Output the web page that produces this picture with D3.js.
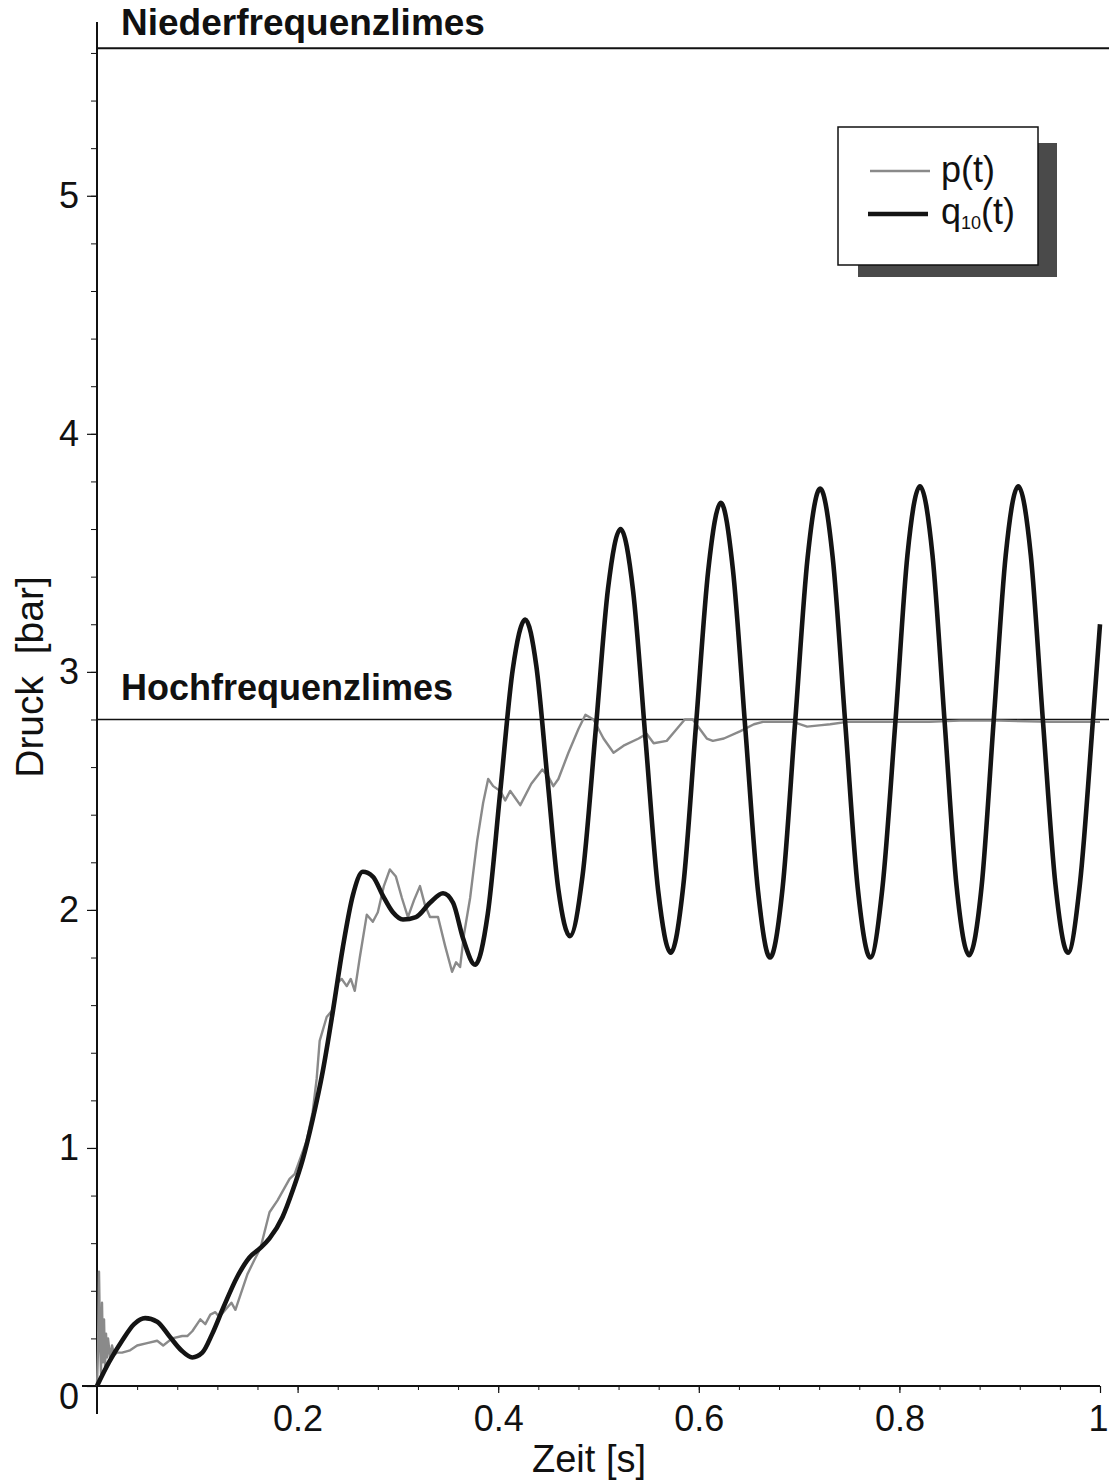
<!DOCTYPE html>
<html>
<head>
<meta charset="utf-8">
<script src="https://cdn.jsdelivr.net/npm/d3@7"></script>
<style>
  html, body { margin: 0; padding: 0; background: #fff; }
  svg { display: block; font-family: "Liberation Sans", Arial, sans-serif; }
</style>
</head>
<body>
<svg id="chart" width="1109" height="1483"></svg>
<script>
// Pressure response: measured p(t) and the 10-mode approximation q10(t)
const pTime = [0, 0.001, 0.002, 0.003, 0.004, 0.005, 0.006, 0.007, 0.008, 0.009, 0.010, 0.011, 0.013, 0.015, 0.017, 0.020,
  0.025, 0.033, 0.040, 0.050, 0.060, 0.066, 0.075, 0.085, 0.090, 0.095, 0.103, 0.108, 0.113, 0.118, 0.122, 0.128,
  0.134, 0.138, 0.142, 0.150, 0.157, 0.163, 0.172, 0.180, 0.192, 0.197, 0.209, 0.215, 0.219, 0.222, 0.229, 0.235,
  0.239, 0.244, 0.249, 0.253, 0.257, 0.262, 0.269, 0.275, 0.280, 0.286, 0.292, 0.298, 0.304, 0.310, 0.316, 0.322,
  0.327, 0.332, 0.340, 0.347, 0.354, 0.358, 0.362, 0.366, 0.372, 0.379, 0.385, 0.390, 0.395, 0.402, 0.407, 0.412,
  0.417, 0.422, 0.433, 0.444, 0.450, 0.455, 0.460, 0.470, 0.480, 0.487, 0.495, 0.505, 0.515, 0.525, 0.540, 0.548,
  0.555, 0.568, 0.578, 0.586, 0.594, 0.601, 0.608, 0.614, 0.625, 0.641, 0.655, 0.664, 0.680, 0.694, 0.708, 0.720,
  0.731, 0.748, 0.770, 0.800, 0.830, 0.860, 0.900, 0.950, 1.000];
const pValue = [0, 0.15, 0.48, 0.20, 0.05, 0.35, 0.10, 0.28, 0.08, 0.22, 0.12, 0.20, 0.12, 0.17, 0.13, 0.14,
  0.14, 0.15, 0.17, 0.18, 0.19, 0.17, 0.20, 0.21, 0.21, 0.23, 0.28, 0.26, 0.30, 0.31, 0.29, 0.32,
  0.35, 0.32, 0.37, 0.47, 0.53, 0.58, 0.73, 0.78, 0.87, 0.89, 1.03, 1.15, 1.29, 1.45, 1.55, 1.58,
  1.69, 1.71, 1.68, 1.71, 1.66, 1.80, 1.98, 1.95, 1.99, 2.10, 2.17, 2.14, 2.05, 1.97, 2.04, 2.10,
  2.02, 1.97, 1.97, 1.85, 1.74, 1.78, 1.76, 1.90, 2.05, 2.29, 2.45, 2.55, 2.52, 2.50, 2.46, 2.50,
  2.47, 2.44, 2.53, 2.59, 2.56, 2.52, 2.55, 2.66, 2.76, 2.82, 2.80, 2.72, 2.66, 2.69, 2.72, 2.74,
  2.70, 2.71, 2.76, 2.80, 2.80, 2.76, 2.72, 2.71, 2.72, 2.75, 2.78, 2.79, 2.79, 2.79, 2.77, 2.775,
  2.78, 2.79, 2.79, 2.79, 2.79, 2.795, 2.795, 2.79, 2.79];

const qTime = [0, 0.012, 0.025, 0.037, 0.048, 0.060, 0.072, 0.084, 0.095, 0.105, 0.115, 0.126, 0.140, 0.152, 0.163,
  0.172, 0.185, 0.195, 0.205, 0.215, 0.225, 0.235, 0.245, 0.255, 0.265, 0.275, 0.285, 0.295, 0.305, 0.318, 0.332,
  0.345, 0.355, 0.365, 0.377, 0.3895, 0.402, 0.4145, 0.427, 0.438, 0.449, 0.460, 0.4715, 0.484, 0.497, 0.5095, 0.522,
  0.5345, 0.547, 0.5595, 0.572, 0.5845, 0.597, 0.6095, 0.622, 0.634, 0.6465, 0.659, 0.671, 0.6835, 0.696, 0.7085, 0.721,
  0.7335, 0.746, 0.7585, 0.771, 0.783, 0.796, 0.808, 0.8205, 0.833, 0.845, 0.857, 0.8695, 0.882, 0.894, 0.906, 0.9185,
  0.931, 0.943, 0.9555, 0.968, 0.980, 0.993, 1.000];
const qValue = [0, 0.10, 0.19, 0.26, 0.285, 0.27, 0.21, 0.15, 0.12, 0.14, 0.22, 0.33, 0.46, 0.54, 0.58,
  0.62, 0.71, 0.82, 0.95, 1.12, 1.32, 1.57, 1.84, 2.06, 2.16, 2.14, 2.06, 1.99, 1.96, 1.97, 2.03,
  2.07, 2.03, 1.88, 1.77, 1.98, 2.495, 3.01, 3.22, 3.025, 2.555, 2.085, 1.89, 2.14, 2.745, 3.35, 3.60,
  3.34, 2.71, 2.08, 1.82, 2.10, 2.765, 3.43, 3.71, 3.43, 2.755, 2.08, 1.80, 2.09, 2.785, 3.48, 3.77,
  3.48, 2.785, 2.09, 1.80, 2.09, 2.79, 3.49, 3.78, 3.49, 2.795, 2.10, 1.81, 2.10, 2.795, 3.49, 3.78,
  3.49, 2.80, 2.11, 1.82, 2.11, 2.80, 3.20];

// Limits of the pressure (bar)
const lowFreqLimit = 5.62;
const highFreqLimit = 2.8;
const limitLabels = ["Niederfrequenzlimes", "Hochfrequenzlimes"];

const xTicks = [0.2, 0.4, 0.6, 0.8, 1];
const xMinor = d3.range(0, 26).map(i => i * 0.04);
const yTicks = [0, 1, 2, 3, 4, 5];
const yMinor = d3.range(0, 29).map(i => i * 0.2);

const seriesNames = ["p(t)", "q"];

const svg = d3.select("#chart");
const x = d3.scaleLinear().domain([0, 1]).range([97, 1100]);
const y = d3.scaleLinear().domain([0, 5.73]).range([1386, 22]);

const ink = "#111";

// Minor ticks
svg.append("g").attr("transform", `translate(${x(0)},0)`)
  .call(d3.axisLeft(y).tickValues(yMinor).tickSize(6).tickFormat(""))
  .call(g => g.select(".domain").remove())
  .call(g => g.selectAll("line").attr("stroke", ink).attr("stroke-width", 1));
svg.append("g").attr("transform", `translate(0,${y(0)})`)
  .call(d3.axisBottom(x).tickValues(xMinor).tickSize(4).tickFormat(""))
  .call(g => g.select(".domain").remove())
  .call(g => g.selectAll("line").attr("stroke", ink).attr("stroke-width", 1));

// Major y axis
const yAxis = svg.append("g").attr("transform", `translate(${x(0)},0)`)
  .call(d3.axisLeft(y).tickValues(yTicks).tickSize(10).tickPadding(8).tickFormat(d3.format("d")));
yAxis.select(".domain").remove();
yAxis.selectAll("line").attr("stroke", ink).attr("stroke-width", 1.2);
yAxis.selectAll("text").attr("font-size", 36).attr("fill", ink)
  .attr("font-family", "Liberation Sans, Arial, sans-serif")
  .filter(d => d === 0).attr("dy", "0.62em");

// Major x axis
const xAxis = svg.append("g").attr("transform", `translate(0,${y(0)})`)
  .call(d3.axisBottom(x).tickValues(xTicks).tickSize(7).tickPadding(12).tickFormat(d => d === 1 ? "1" : d3.format(".1f")(d)));
xAxis.select(".domain").remove();
xAxis.selectAll("line").attr("stroke", ink).attr("stroke-width", 1.2);
xAxis.selectAll("text").attr("font-size", 36).attr("fill", ink)
  .attr("font-family", "Liberation Sans, Arial, sans-serif")
  .filter(d => d === 1).attr("text-anchor", "end").attr("dx", 8);

// Axis lines
svg.append("line").attr("x1", x(0)).attr("x2", x(0)).attr("y1", y(0) + 28).attr("y2", y(5.73))
  .attr("stroke", ink).attr("stroke-width", 2);
svg.append("line").attr("x1", x(0) - 15).attr("x2", x(1)).attr("y1", y(0)).attr("y2", y(0))
  .attr("stroke", ink).attr("stroke-width", 2);

// Axis titles
svg.append("text").attr("x", 589).attr("y", 1472).attr("text-anchor", "middle")
  .attr("font-size", 38).attr("fill", ink).text("Zeit [s]");
svg.append("text").attr("transform", "translate(43,677) rotate(-90)").attr("text-anchor", "middle")
  .attr("font-size", 39).attr("fill", ink).attr("xml:space", "preserve").text("Druck  [bar]");

// Limit lines, running out to the right edge
svg.append("line").attr("x1", x(0)).attr("x2", 1109).attr("y1", y(lowFreqLimit)).attr("y2", y(lowFreqLimit))
  .attr("stroke", ink).attr("stroke-width", 2);
svg.append("line").attr("x1", x(0)).attr("x2", 1109).attr("y1", y(highFreqLimit)).attr("y2", y(highFreqLimit))
  .attr("stroke", ink).attr("stroke-width", 1.6);
svg.append("text").attr("x", 121).attr("y", y(lowFreqLimit) - 13).attr("font-size", 37).attr("font-weight", "bold")
  .attr("fill", ink).text(limitLabels[0]);
svg.append("text").attr("x", 121).attr("y", y(highFreqLimit) - 19).attr("font-size", 36).attr("font-weight", "bold")
  .attr("fill", ink).text(limitLabels[1]);

// Curves
const pData = pTime.map((t, i) => [t, pValue[i]]);
const qData = qTime.map((t, i) => [t, qValue[i]]);

svg.append("path").datum(pData)
  .attr("fill", "none").attr("stroke", "#8a8a8a").attr("stroke-width", 2.4).attr("stroke-linejoin", "round")
  .attr("d", d3.line().x(d => x(d[0])).y(d => y(d[1])));

svg.append("path").datum(qData)
  .attr("fill", "none").attr("stroke", "#141414").attr("stroke-width", 4.6).attr("stroke-linejoin", "round")
  .attr("d", d3.line().x(d => x(d[0])).y(d => y(d[1])).curve(d3.curveMonotoneX));

// Legend with drop shadow
const lg = svg.append("g");
lg.append("rect").attr("x", 858).attr("y", 143).attr("width", 199).attr("height", 134).attr("fill", "#4a4a4a");
lg.append("rect").attr("x", 838).attr("y", 127).attr("width", 200).attr("height", 138)
  .attr("fill", "#fff").attr("stroke", ink).attr("stroke-width", 1.5);
lg.append("line").attr("x1", 870).attr("x2", 930).attr("y1", 171).attr("y2", 171)
  .attr("stroke", "#8a8a8a").attr("stroke-width", 2.4);
lg.append("line").attr("x1", 868).attr("x2", 928).attr("y1", 214).attr("y2", 214)
  .attr("stroke", "#141414").attr("stroke-width", 4.6);
lg.append("text").attr("x", 941).attr("y", 182).attr("font-size", 36).attr("fill", ink).text(seriesNames[0]);
const qLabel = lg.append("text").attr("x", 941).attr("y", 224).attr("font-size", 36).attr("fill", ink);
qLabel.append("tspan").text(seriesNames[1]);
qLabel.append("tspan").attr("font-size", 18).attr("dy", 5).text("10");
qLabel.append("tspan").attr("dy", -5).text("(t)");
</script>
</body>
</html>
